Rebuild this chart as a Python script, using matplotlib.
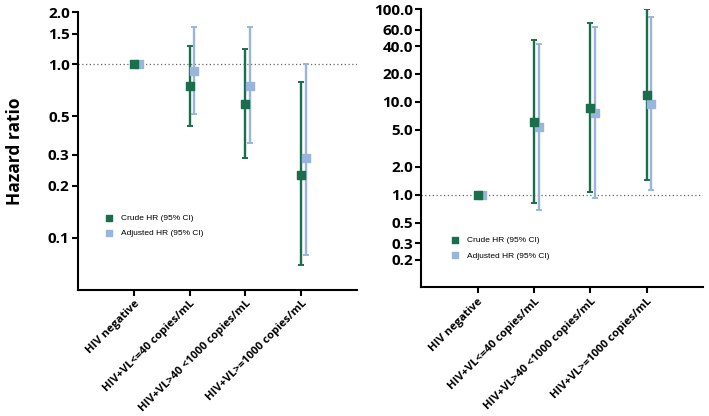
import numpy as np
import matplotlib
matplotlib.use('Agg')
import matplotlib.pyplot as plt

# Категории и значения HR (оценено по рисунку)
categories = ['HIV negative', 'HIV+VL<=40 copies/mL',
              'HIV+VL>40 <1000 copies/mL', 'HIV+VL>=1000 copies/mL']

# левая панель
left_crude = [1.0, 0.75, 0.59, 0.23]
left_crude_lo = [1.0, 0.44, 0.29, 0.07]
left_crude_hi = [1.0, 1.27, 1.23, 0.79]
left_adj = [1.0, 0.92, 0.75, 0.29]
left_adj_lo = [1.0, 0.52, 0.35, 0.08]
left_adj_hi = [1.0, 1.63, 1.63, 1.0]
left_ticks = [0.1, 0.2, 0.3, 0.5, 1.0, 1.5, 2.0]

# правая панель
right_crude = [1.0, 6.15, 8.7, 12.0]
right_crude_lo = [1.0, 0.82, 1.08, 1.45]
right_crude_hi = [1.0, 47, 71, 100]
right_adj = [1.0, 5.3, 7.6, 9.5]
right_adj_lo = [1.0, 0.68, 0.91, 1.11]
right_adj_hi = [1.0, 42, 64, 83]
right_ticks = [0.2, 0.3, 0.5, 1.0, 2.0, 5.0, 10.0, 20.0, 40.0, 60.0, 100.0]

GREEN = '#1b6e4b'
BLUE = '#9ab5dc'
TICK_FONT = 'Open Sans'
LEG_FONT = 'Liberation Sans'


def draw_panel(ax, crude, c_lo, c_hi, adj, a_lo, a_hi, yticks, ylim, legend_loc):
    x = np.arange(len(categories))
    off = 0.085
    for xs, val, lo, hi, col in [(x, crude, c_lo, c_hi, GREEN),
                                 (x + off, adj, a_lo, a_hi, BLUE)]:
        val = np.array(val)
        yerr = [val - np.array(lo), np.array(hi) - val]
        ax.errorbar(xs, val, yerr=yerr, fmt='none', ecolor=col,
                    elinewidth=1.7, capsize=2.5, capthick=1.4, zorder=2)
    ax.scatter(x, crude, marker='s', s=26, color=GREEN, zorder=4,
               label='Crude HR (95% CI)')
    ax.scatter(x + off, adj, marker='s', s=26, color=BLUE, zorder=3,
               label='Adjusted HR (95% CI)')
    ax.axhline(1.0, color='#666666', linestyle=(0, (1, 2)), linewidth=0.9, zorder=1)

    ax.set_yscale('log')
    ax.set_ylim(*ylim)
    ax.set_xlim(-1, 4)
    ax.set_yticks(yticks)
    ax.set_yticklabels([f'{t:.1f}' for t in yticks])
    ax.yaxis.set_minor_locator(matplotlib.ticker.NullLocator())
    for lab in ax.get_yticklabels():
        lab.set_fontfamily(TICK_FONT)
        lab.set_fontweight('bold')
        lab.set_fontsize(11)

    ax.set_xticks(x)
    ax.set_xticklabels(categories, rotation=45, ha='right',
                       rotation_mode='anchor', fontsize=8,
                       fontweight='bold', fontfamily=TICK_FONT)

    for s in ['top', 'right']:
        ax.spines[s].set_visible(False)
    for s in ['left', 'bottom']:
        ax.spines[s].set_linewidth(1.5)
    ax.tick_params(axis='both', width=1.5, length=4, direction='out', pad=2)

    ax.legend(loc='upper left', bbox_to_anchor=legend_loc, frameon=False,
              prop={'family': LEG_FONT, 'size': 6}, handletextpad=0.4,
              borderaxespad=0, labelspacing=0.9, markerscale=0.9)


fig = plt.figure(figsize=(7.09, 4.16), dpi=100)
ax1 = fig.add_axes([0.110, 0.303, 0.3935, 0.668])
ax2 = fig.add_axes([0.594, 0.309, 0.3975, 0.669])

draw_panel(ax1, left_crude, left_crude_lo, left_crude_hi,
           left_adj, left_adj_lo, left_adj_hi, left_ticks, (0.05, 2.0),
           (0.07, 0.285))
draw_panel(ax2, right_crude, right_crude_lo, right_crude_hi,
           right_adj, right_adj_lo, right_adj_hi, right_ticks, (0.1, 100.0),
           (0.08, 0.195))

ax1.set_ylabel('Hazard ratio', fontsize=12.5, fontweight='bold',
               fontfamily=TICK_FONT, labelpad=17)

plt.savefig('out.png', dpi=100)
plt.close()
